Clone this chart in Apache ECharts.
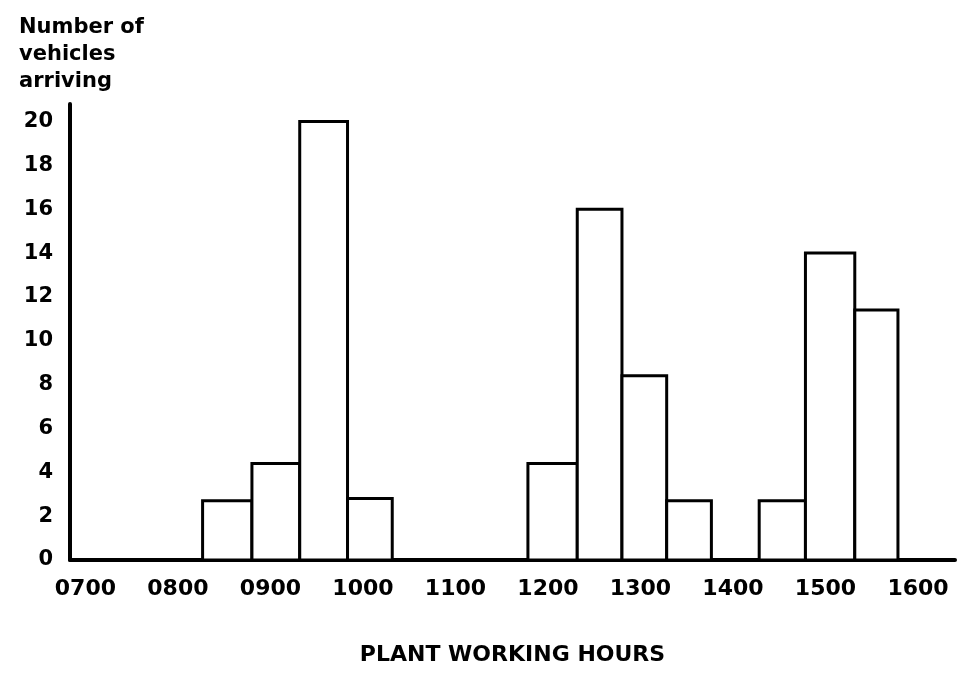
<!DOCTYPE html>
<html>
<head>
<meta charset="utf-8">
<script src="https://cdn.jsdelivr.net/npm/echarts@6/dist/echarts.min.js"></script>
<style>
  html, body { margin: 0; padding: 0; background: #fff; }
  #chart { width: 971px; height: 682px; }
</style>
</head>
<body>
<div id="chart"></div>
<script>
// Arrival bins (clock times) and the number of vehicles arriving in each
const binStart = ['08:16', '08:48', '09:19', '09:50', '11:47', '12:19', '12:48', '13:17', '14:17', '14:47', '15:19'];
const binEnd   = ['08:48', '09:19', '09:50', '10:19', '12:19', '12:48', '13:17', '13:46', '14:47', '15:19', '15:47'];
const vehicles = [2.7, 4.4, 20, 2.8, 4.4, 16, 8.4, 2.7, 2.7, 14, 11.4];

// Axis tick labels
const hourLabels = ['0700', '0800', '0900', '1000', '1100', '1200', '1300', '1400', '1500', '1600'];
const firstHour = 7;
const yTicks = [0, 2, 4, 6, 8, 10, 12, 14, 16, 18, 20];

const FONT = 'DejaVu Sans';

function toMinutes(t) {
  const [h, m] = t.split(':').map(Number);
  return h * 60 + m;
}

const bins = binStart.map((t, i) => [toMinutes(t), toMinutes(binEnd[i]), vehicles[i]]);

const chart = echarts.init(document.getElementById('chart'), null, { renderer: 'canvas' });

chart.setOption({
  backgroundColor: '#ffffff',
  animation: false,
  title: {
    text: 'Number of\nvehicles\narriving',
    left: 14,
    top: 9,
    textStyle: {
      fontFamily: FONT,
      fontWeight: 'bold',
      fontSize: 21,
      lineHeight: 27,
      color: '#000'
    }
  },
  grid: { left: 70, right: 16, top: 104, bottom: 122, containLabel: false },
  xAxis: {
    type: 'value',
    min: 410,
    max: 984,
    interval: 5,
    name: 'PLANT WORKING HOURS',
    nameLocation: 'middle',
    nameGap: 84,
    nameTextStyle: {
      fontFamily: FONT,
      fontWeight: 'bold',
      fontSize: 22,
      color: '#000'
    },
    axisLine: { show: true, onZero: false, lineStyle: { color: '#000', width: 4 } },
    axisTick: { show: false },
    splitLine: { show: false },
    axisLabel: {
      margin: 18,
      fontFamily: FONT,
      fontWeight: 'bold',
      fontSize: 22,
      color: '#000',
      showMinLabel: true,
      showMaxLabel: true,
      formatter: function (v) {
        const r = Math.round(v);
        if (r % 60 !== 0) return '';
        const label = hourLabels[r / 60 - firstHour];
        return label === undefined ? '' : label;
      }
    }
  },
  yAxis: {
    type: 'value',
    min: 0,
    max: 20.8,
    interval: 2,
    axisLine: { show: true, lineStyle: { color: '#000', width: 4 } },
    axisTick: { show: false },
    splitLine: { show: false },
    axisLabel: {
      margin: 17,
      fontFamily: FONT,
      fontWeight: 'bold',
      fontSize: 21,
      color: '#000',
      formatter: function (v) {
        const r = Math.round(v * 100) / 100;
        return yTicks.indexOf(r) >= 0 ? String(r) : '';
      }
    }
  },
  series: [{
    type: 'custom',
    data: bins,
    encode: { x: [0, 1], y: 2 },
    renderItem: function (params, api) {
      const p0 = api.coord([api.value(0), 0]);
      const p1 = api.coord([api.value(1), api.value(2)]);
      return {
        type: 'rect',
        shape: { x: p0[0], y: p1[1], width: p1[0] - p0[0], height: p0[1] - p1[1] },
        style: { fill: '#ffffff', stroke: '#000000', lineWidth: 3 }
      };
    }
  }]
});
</script>
</body>
</html>
